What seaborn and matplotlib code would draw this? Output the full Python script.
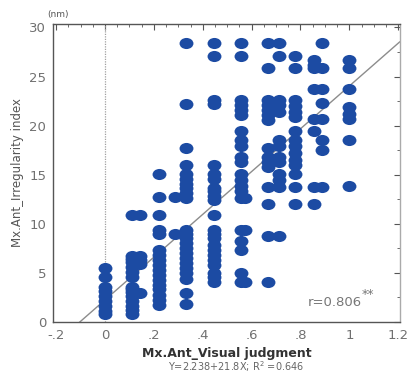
import numpy as np
import pandas as pd
import matplotlib
matplotlib.use("Agg")
import matplotlib.pyplot as plt
import seaborn as sns
from matplotlib.path import Path
from matplotlib.transforms import Affine2D
from matplotlib.ticker import MultipleLocator, FixedLocator, FixedFormatter

# visual judgment score (x) and the irregularity index values found at each score (nm)
judgment_levels = [0.0, 0.111, 0.143, 0.222, 0.286, 0.333, 0.444, 0.556,
                   0.571, 0.667, 0.714, 0.778, 0.857, 0.889, 1.0]

irr_0 = [0.8, 1.1, 1.6, 2.1, 2.6, 3.1, 3.6, 4.6, 5.5]
irr_111 = [0.8, 1.2, 1.6, 2.1, 2.6, 3.0, 3.3, 3.6, 4.6, 5.1, 5.6, 6.1, 6.4, 6.7, 10.9]
irr_143 = [2.9, 5.9, 6.3, 6.7, 10.9]
irr_222 = [1.7, 2.2, 2.7, 3.3, 3.8, 4.3, 4.8, 5.3, 5.8, 6.3, 6.8, 7.3,
           9.0, 9.4, 10.9, 12.7, 15.1]
irr_286 = [9.0, 12.7]
irr_333 = [1.8, 2.9, 4.4, 5.0, 5.5, 6.0, 6.5, 7.0, 7.5, 8.0, 8.5, 9.0, 9.4,
           12.6, 13.1, 13.6, 14.1, 14.6, 15.1, 16.0, 17.7, 22.2, 28.4]
irr_444 = [4.1, 4.6, 5.0, 5.8, 6.3, 6.8, 7.3, 7.8, 8.5, 9.0, 9.4, 10.9,
           12.4, 12.8, 13.3, 13.6, 14.6, 15.1, 16.0, 22.2, 22.6, 27.1, 28.4]
irr_556 = [4.1, 5.0, 7.3, 8.2, 9.4, 12.6, 13.3, 13.8, 14.5, 15.1, 16.3, 16.8,
           17.9, 18.5, 19.5, 21.1, 21.6, 22.1, 22.6, 27.1, 28.4]
irr_571 = [4.1, 9.4, 12.6]
irr_667 = [4.1, 8.8, 12.0, 13.7, 15.8, 16.3, 16.8, 17.7, 20.6, 21.1, 21.6,
           22.1, 22.6, 25.9, 28.4]
irr_714 = [8.8, 13.7, 14.5, 15.1, 16.3, 16.8, 17.9, 18.5, 21.4, 22.1, 22.6,
           27.1, 28.4]
irr_778 = [12.0, 13.7, 15.1, 16.0, 16.5, 17.2, 17.9, 18.5, 19.5, 20.9, 21.4,
           22.0, 22.6, 25.9, 27.1]
irr_857 = [12.0, 13.7, 19.5, 20.7, 23.7, 25.9, 26.2, 26.7]
irr_889 = [13.7, 17.5, 18.5, 20.7, 22.3, 23.7, 25.9, 28.4]
irr_1 = [13.8, 18.5, 20.7, 21.2, 21.9, 23.7, 25.9, 26.7]

irr_by_level = [irr_0, irr_111, irr_143, irr_222, irr_286, irr_333, irr_444,
                irr_556, irr_571, irr_667, irr_714, irr_778, irr_857, irr_889, irr_1]

# reported fit
intercept, slope = 2.238, 21.8
r_value, r_squared = 0.806, 0.646

df = pd.DataFrame({
    "judgment": np.concatenate([[x] * len(v) for x, v in zip(judgment_levels, irr_by_level)]),
    "irregularity": np.concatenate(irr_by_level),
})

sns.set_style("white")
plt.rcParams["font.family"] = ["DejaVu Sans"]

fig = plt.figure(figsize=(4.11, 3.76), dpi=100)
ax = fig.add_axes([0.129, 0.144, 0.844, 0.792])

xlim = (-0.213, 1.207)
ylim = (0, 30.35)

# dotted reference line at x = 0
ax.axvline(0, color="#a0a0a0", lw=0.9, ls=(0, (1, 1)), zorder=1)

# regression line from the reported equation
xs = np.array(xlim)
ax.plot(xs, intercept + slope * xs, color="#8c8c8c", lw=1.0, zorder=2)

# slightly flattened dots
oval = Path.unit_circle().transformed(Affine2D().scale(1.0, 0.8))
sns.scatterplot(data=df, x="judgment", y="irregularity", ax=ax,
                marker=oval, s=100, color="#1c4ba3", edgecolor="#1c4ba3",
                linewidth=0, zorder=3)

ax.set_xlim(*xlim)
ax.set_ylim(*ylim)

xticks = [-0.2, 0, 0.2, 0.4, 0.6, 0.8, 1.0, 1.2]
xticklabels = ["-.2", "0", ".2", ".4", ".6", ".8", "1", "1.2"]
ax.xaxis.set_major_locator(FixedLocator(xticks))
ax.xaxis.set_major_formatter(FixedFormatter(xticklabels))
ax.xaxis.set_minor_locator(MultipleLocator(0.05))
ax.yaxis.set_major_locator(MultipleLocator(5))
ax.yaxis.set_minor_locator(MultipleLocator(2.5))

ax.tick_params(which="both", direction="in", top=True, right=True,
               color="#555555", labelcolor="#707070", labelsize=9.5)
ax.tick_params(which="major", length=4, width=0.8, pad=5)
ax.tick_params(which="minor", length=2, width=0.6)

for side, sp in ax.spines.items():
    sp.set_color("#555555")
    sp.set_linewidth(1.0)
ax.spines["right"].set_color("#aaaaaa")

ax.set_xlabel("Mx.Ant_Visual judgment", fontsize=9, color="#333333",
              fontweight="bold", labelpad=4)
ax.set_ylabel("Mx.Ant_Irregularity index", fontsize=8.5, color="#555555",
              labelpad=4)

fig.text(0.575, 0.024, f"Y={intercept}+{slope}X; R$^2$ =0.646",
         fontsize=7, color="#666666", ha="center", va="center")
fig.text(0.142, 0.962, "(nm)", fontsize=6.5, color="#555555",
         ha="center", va="center")

ax.text(0.89, 0.065, f"r={r_value}", transform=ax.transAxes, fontsize=9.5,
        color="#777777", ha="right", va="center")
ax.text(0.89, 0.092, "**", transform=ax.transAxes, fontsize=9,
        color="#777777", ha="left", va="center")

fig.savefig("out.png", dpi=100)
